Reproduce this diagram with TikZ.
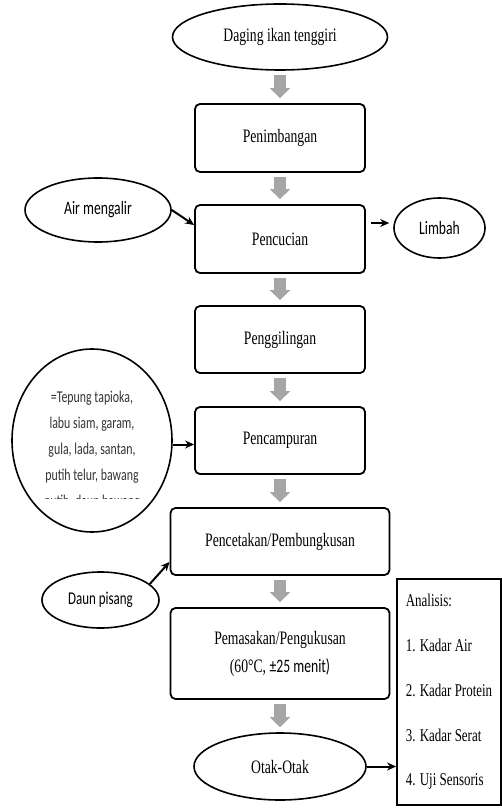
\documentclass[tikz,border=0pt]{standalone}
\usepackage{fontspec}
\setmainfont{Liberation Serif}[FakeStretch=0.72]
\newfontfamily\tnr{Liberation Serif}[FakeStretch=0.72]
\newfontfamily\calibri{Carlito}[FakeStretch=0.72]
\usetikzlibrary{arrows.meta,shapes.geometric}

\begin{document}
\begin{tikzpicture}[x=1pt,y=-1pt,>={Stealth[length=9pt,width=8pt]},
  proses/.style={draw,line width=1.8pt,rounded corners=5pt,minimum width=170pt,
    minimum height=68pt,align=center,font=\tnr\fontsize{19}{28}\selectfont},
  ujung/.style={draw,ellipse,line width=1.6pt,inner sep=0pt,font=\tnr\fontsize{19}{22}\selectfont},
  luar/.style={draw,ellipse,line width=1.6pt,inner sep=0pt,font=\calibri\fontsize{19}{22}\selectfont},
  blok/.style={gray!70,line width=12pt,-{Triangle[length=10pt,width=20pt]},
    shorten <=4pt,shorten >=5pt},
  panah/.style={->,line width=2pt}]

\useasboundingbox (0,0) rectangle (502,810);

% ============================================================
% 1. MAIN PROCESS
% ============================================================

\node[ujung,minimum width=215pt,minimum height=66pt] (daging) at (280,37) {Daging ikan tenggiri};
\node[proses] (timbang) at (280,138) {Penimbangan};
\node[proses] (cuci) at (280,239) {Pencucian};
\node[proses,minimum height=67pt] (giling) at (280,339.5) {Penggilingan};
\node[proses,minimum height=67pt] (campur) at (280,440.5) {Pencampuran};
\node[proses,minimum width=219pt,minimum height=67pt] (cetak) at (280,541.5) {Pencetakan/Pembungkusan};
\node[proses,minimum width=219pt,minimum height=91pt] (masak) at (280,653.5)
  {Pemasakan/Pengukusan\\(60°C, {\calibri ±25 menit)}};
\node[ujung,minimum width=172pt,minimum height=67pt] (otak) at (280,766.5) {Otak-Otak};

% Gray block arrows
\foreach \a/\b in {daging/timbang,timbang/cuci,cuci/giling,giling/campur,
                   campur/cetak,cetak/masak,masak/otak}{
  \draw[blok] (\a) -- (\b);
}

% ============================================================
% 2. INPUTS AND OUTPUTS
% ============================================================

\node[luar,minimum width=146pt,minimum height=64pt] (air) at (98,210) {Air mengalir};
\node[luar,minimum width=91pt,minimum height=60pt] (limbah) at (439.5,228) {Limbah};
\node[luar,minimum width=160pt,minimum height=183pt] (bahan) at (92,440.5) {};
\node[luar,minimum width=117pt,minimum height=56pt,font=\calibri\fontsize{18}{22}\selectfont]
  (daun) at (100.5,600) {Daun pisang};

% ingredient text (cut off at the bottom)
\begin{scope}
  \clip (10,385) rectangle (175,498);
  \node[align=center,text=black!80,font=\calibri\fontsize{16.5}{26}\selectfont]
    (bahanteks) at ([yshift=-9.5pt]bahan.center)
    {=Tepung tapioka,\\labu siam, garam,\\gula, lada, santan,\\putih telur, bawang\\putih, daun bawang};
\end{scope}

\draw[panah] (air.east) -- ([yshift=14pt]cuci.west);
\draw[panah] ([xshift=5pt,yshift=16pt]cuci.east) -- ([xshift=-4pt,yshift=5pt]limbah.west);
\draw[panah] ([yshift=-4pt]bahan.east) -- ([yshift=-4pt]campur.west);
\draw[panah] (daun.18) -- ([yshift=14pt]cetak.south west);

% ============================================================
% 3. ANALYSIS
% ============================================================

\node[draw,line width=1.8pt,minimum width=104pt,minimum height=226pt,
  align=left,font=\tnr\fontsize{18}{44.75}\selectfont] (analisis) at (449,692)
  {Analisis:\\1. Kadar Air\\2. Kadar Protein\\3. Kadar Serat\\4. Uji Sensoris};

\draw[panah] (otak.east) -- (otak.east -| analisis.west);

\end{tikzpicture}
\end{document}
